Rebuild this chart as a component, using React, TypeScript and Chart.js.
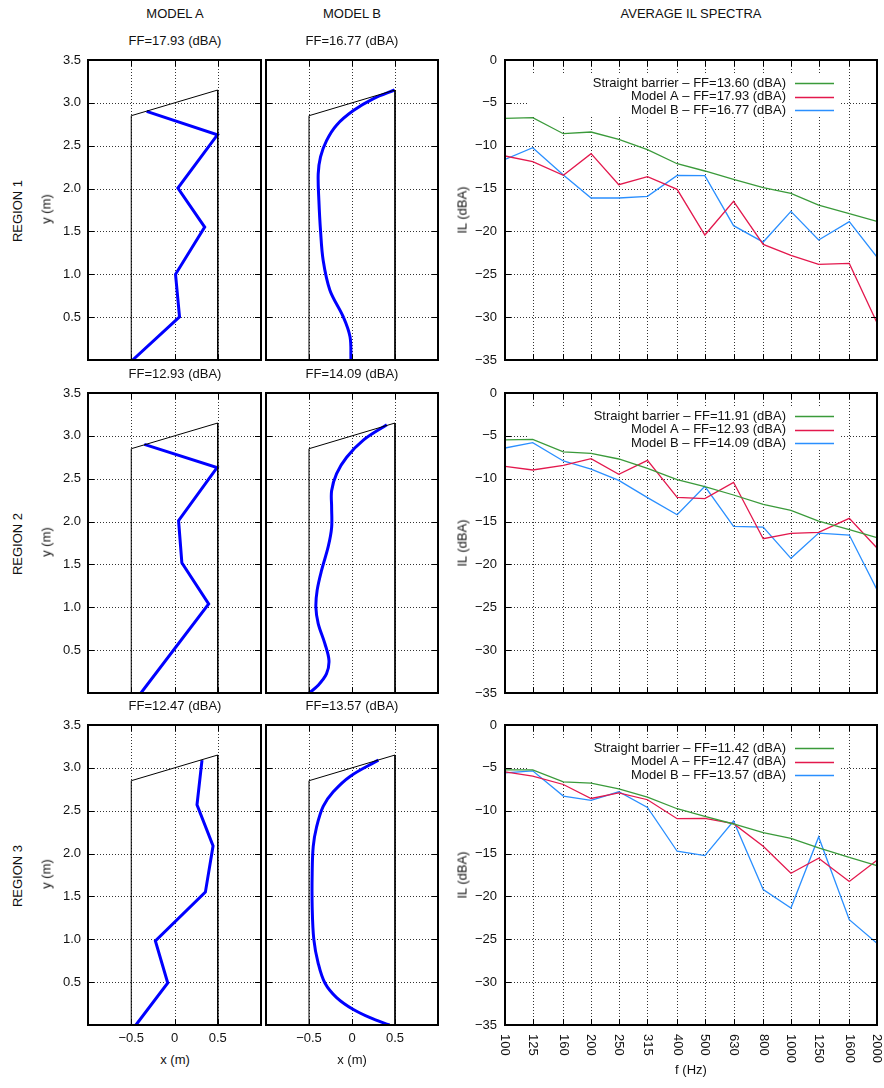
import React, { useEffect, useRef } from 'react';
import { Chart, registerables } from 'chart.js';
Chart.register(...registerables);

const FONT = "'Liberation Sans', Arial, Helvetica, sans-serif";
Chart.defaults.font.family = FONT;
Chart.defaults.font.size = 13;
Chart.defaults.color = '#111';

// ---------- spectra data ----------
const freqs = [100, 125, 160, 200, 250, 315, 400, 500, 630, 800, 1000, 1250, 1600, 2000];
const freqLabels = ['100', '125', '160', '200', '250', '315', '400', '500', '630', '800', '1000', '1250', '1600', '2000'];

const r1Straight = [-6.81, -6.73, -8.6, -8.4, -9.26, -10.46, -12.1, -12.95, -13.92, -14.9, -15.56, -16.92, -17.93, -18.83];
const r1ModelA = [-11.2, -11.86, -13.46, -10.93, -14.55, -13.61, -15.09, -20.42, -16.49, -21.51, -22.79, -23.84, -23.73, -30.65];
const r1ModelB = [-11.59, -10.23, -13.42, -16.1, -16.1, -15.91, -13.46, -13.5, -19.33, -21.24, -17.66, -21.0, -18.86, -22.99];

const r2Straight = [-5.48, -5.41, -6.88, -7.04, -7.7, -8.79, -10.11, -10.93, -11.9, -12.99, -13.69, -14.94, -15.95, -16.88];
const r2ModelA = [-8.56, -8.98, -8.44, -7.66, -9.49, -7.86, -12.17, -12.33, -10.42, -17.0, -16.37, -16.26, -14.62, -18.09];
const r2ModelB = [-6.42, -5.8, -7.93, -8.87, -10.19, -12.21, -14.2, -10.89, -15.56, -15.64, -19.29, -16.34, -16.57, -22.95];

const r3Straight = [-5.23, -5.23, -6.63, -6.78, -7.44, -8.41, -9.77, -10.66, -11.55, -12.56, -13.22, -14.34, -15.43, -16.4];
const r3ModelA = [-5.47, -5.97, -6.94, -8.57, -7.91, -8.72, -10.93, -10.89, -11.51, -14.15, -17.29, -15.54, -18.26, -15.78];
const r3ModelB = [-5.58, -5.35, -8.29, -8.8, -7.79, -9.61, -14.73, -15.23, -11.2, -19.19, -21.36, -13.06, -22.71, -25.47];

const ffStraight = ['13.60', '11.91', '11.42'];
const ffModelA = ['17.93', '12.93', '12.47'];
const ffModelB = ['16.77', '14.09', '13.57'];
const seriesNames = ['Straight barrier', 'Model A', 'Model B'];

// ---------- profile data ----------
const barrierX = [-0.5, -0.5, 0.5, 0.5];
const barrierY = [0, 2.85, 3.15, 0];
const profileXTicks = [-0.5, 0, 0.5];

const r1ProfileAX = [-0.484, 0.058, 0.012, 0.349, 0.039, 0.496, -0.322];
const r1ProfileAY = [0, 0.504, 1.0, 1.55, 2.006, 2.627, 2.9];
const r1ProfileBX = [-0.012, -0.023, -0.1, -0.257, -0.335, -0.366, -0.385, -0.393, -0.366, -0.296, -0.18, 0.016, 0.25, 0.494];
const r1ProfileBY = [0, 0.27, 0.5, 0.815, 1.16, 1.51, 1.86, 2.17, 2.37, 2.56, 2.74, 2.91, 3.05, 3.15];

const r2ProfileAX = [-0.388, 0.395, 0.085, 0.047, 0.492, -0.349];
const r2ProfileAY = [0, 1.04, 1.52, 2.01, 2.63, 2.9];
const r2ProfileBX = [-0.498, -0.393, -0.296, -0.268, -0.315, -0.393, -0.42, -0.405, -0.354, -0.276, -0.237, -0.237, -0.237, -0.179, -0.062, 0.132, 0.405];
const r2ProfileBY = [0, 0.09, 0.225, 0.38, 0.575, 0.81, 1.0, 1.2, 1.43, 1.71, 1.93, 2.17, 2.36, 2.56, 2.75, 2.95, 3.13];

const r3ProfileAX = [-0.446, -0.078, -0.221, 0.357, 0.446, 0.26, 0.318];
const r3ProfileAY = [0, 0.49, 0.98, 1.55, 2.09, 2.57, 3.09];
const r3ProfileBX = [0.436, 0.21, 0.016, -0.179, -0.315, -0.393, -0.444, -0.463, -0.463, -0.451, -0.412, -0.335, -0.218, -0.023, 0.307];
const r3ProfileBY = [0, 0.085, 0.18, 0.32, 0.49, 0.72, 1.0, 1.38, 1.77, 2.08, 2.31, 2.55, 2.72, 2.9, 3.09];

const spectra = [
  [r1Straight, r1ModelA, r1ModelB],
  [r2Straight, r2ModelA, r2ModelB],
  [r3Straight, r3ModelA, r3ModelB],
];
const profilesA = [[r1ProfileAX, r1ProfileAY], [r2ProfileAX, r2ProfileAY], [r3ProfileAX, r3ProfileAY]];
const profilesB = [[r1ProfileBX, r1ProfileBY], [r2ProfileBX, r2ProfileBY], [r3ProfileBX, r3ProfileBY]];

const GREEN = '#3a9a3a';
const RED = '#e3184d';
const BLUE = '#2a8fff';
const seriesColors = [GREEN, RED, BLUE];

const ROW_TOPS = [60, 393, 725];
const PLOT_H = 300;

const minus = (v: number) => (v < 0 ? '\u2212' + Math.abs(v) : String(v));

const noGrid = () => ({ display: false, drawTicks: false });
const noBorder = () => ({ display: false });

function fixSize(s: any, w: number | null, h: number | null) {
  if (w !== null) s.width = w;
  if (h !== null) s.height = h;
  s.paddingTop = 0;
  s.paddingBottom = 0;
  s.paddingLeft = 0;
  s.paddingRight = 0;
}

// dotted grid at the scales' own ticks
const gridPlugin = {
  id: 'dotGrid',
  beforeDatasetsDraw(chart: any) {
    const { ctx, chartArea: a, scales } = chart;
    ctx.save();
    ctx.strokeStyle = 'rgba(0,0,0,0.8)';
    ctx.lineWidth = 1;
    ctx.setLineDash([1, 2]);
    ctx.beginPath();
    scales.x.ticks.forEach((t: any) => {
      const px = Math.round(scales.x.getPixelForValue(t.value)) + 0.5;
      ctx.moveTo(px, a.top);
      ctx.lineTo(px, a.bottom);
    });
    scales.y.ticks.forEach((t: any) => {
      const py = Math.round(scales.y.getPixelForValue(t.value)) + 0.5;
      ctx.moveTo(a.left, py);
      ctx.lineTo(a.right, py);
    });
    ctx.stroke();
    ctx.restore();
  },
};

const framePlugin = {
  id: 'frame',
  afterDatasetsDraw(chart: any) {
    const { ctx, chartArea: a, scales } = chart;
    const tl = 6;
    ctx.save();
    ctx.strokeStyle = '#000';
    ctx.lineWidth = 1;
    ctx.beginPath();
    scales.x.ticks.forEach((t: any) => {
      const px = Math.round(scales.x.getPixelForValue(t.value)) + 0.5;
      ctx.moveTo(px, a.top);
      ctx.lineTo(px, a.top + tl);
      ctx.moveTo(px, a.bottom);
      ctx.lineTo(px, a.bottom - tl);
    });
    scales.y.ticks.forEach((t: any) => {
      const py = Math.round(scales.y.getPixelForValue(t.value)) + 0.5;
      ctx.moveTo(a.left, py);
      ctx.lineTo(a.left + tl, py);
      ctx.moveTo(a.right, py);
      ctx.lineTo(a.right - tl, py);
    });
    ctx.stroke();
    ctx.lineWidth = 2;
    ctx.strokeRect(a.left, a.top, a.right - a.left, a.bottom - a.top);
    ctx.restore();
  },
};

const freqLabelPlugin = {
  id: 'freqLabels',
  afterDraw(chart: any) {
    const { ctx, chartArea: a } = chart;
    const sx = chart.scales.x;
    ctx.save();
    ctx.font = `13px ${FONT}`;
    ctx.fillStyle = '#111';
    ctx.textAlign = 'left';
    ctx.textBaseline = 'middle';
    freqs.forEach((f, i) => {
      const px = sx.getPixelForValue(f);
      ctx.save();
      ctx.translate(px, a.bottom + 9);
      ctx.rotate(Math.PI / 2);
      ctx.fillText(freqLabels[i], 0, 0);
      ctx.restore();
    });
    ctx.restore();
  },
};

function makeLegendPlugin(row: number) {
  const ffs = [ffStraight[row], ffModelA[row], ffModelB[row]];
  return {
    id: 'keyBox',
    beforeDatasetsDraw(chart: any) {
      const { ctx, chartArea: a } = chart;
      ctx.save();
      ctx.fillStyle = '#fff';
      ctx.fillRect(a.left + 22, a.top + 15, 314, 42);
      ctx.font = `13px ${FONT}`;
      ctx.fillStyle = '#111';
      ctx.textAlign = 'right';
      ctx.textBaseline = 'middle';
      const rows = [23, 36.5, 50];
      seriesNames.forEach((n, i) => {
        const y = a.top + rows[i];
        ctx.fillText(`${n} \u2013 FF=${ffs[i]} (dBA)`, a.left + 281, y);
        ctx.strokeStyle = seriesColors[i];
        ctx.lineWidth = 1.4;
        ctx.beginPath();
        ctx.moveTo(a.left + 290, Math.round(y) + 0.5);
        ctx.lineTo(a.left + 329, Math.round(y) + 0.5);
        ctx.stroke();
      });
      ctx.restore();
    },
  };
}

function spectraConfig(row: number): any {
  const bottom = row === 2;
  const plugins: any[] = [gridPlugin, framePlugin, makeLegendPlugin(row)];
  if (bottom) plugins.push(freqLabelPlugin);
  return {
    type: 'line',
    data: {
      datasets: spectra[row].map((vals, i) => ({
        label: seriesNames[i],
        data: freqs.map((f, j) => ({ x: f, y: vals[j] })),
        borderColor: seriesColors[i],
        borderWidth: 1.3,
        pointRadius: 0,
        tension: 0,
        fill: false,
      })),
    },
    options: {
      responsive: false,
      animation: false,
      events: [],
      layout: { padding: { left: 0, right: 7, top: 10, bottom: 0 } },
      plugins: { legend: { display: false }, tooltip: { enabled: false } },
      scales: {
        x: {
          type: 'logarithmic',
          min: 100,
          max: 2000,
          afterBuildTicks: (s: any) => {
            s.ticks = freqs.map((v) => ({ value: v }));
          },
          ticks: { display: false },
          grid: noGrid(),
          border: noBorder(),
          afterFit: (s: any) => fixSize(s, null, bottom ? 63 : 10),
        },
        y: {
          type: 'linear',
          min: -35,
          max: 0,
          ticks: { stepSize: 5, padding: 8, callback: (v: any) => minus(Number(v)) },
          grid: noGrid(),
          border: noBorder(),
          afterFit: (s: any) => fixSize(s, 45, null),
        },
      },
    },
    plugins,
  };
}

function profileConfig(xs: number[], ys: number[], smooth: boolean, showY: boolean, showX: boolean): any {
  return {
    type: 'scatter',
    data: {
      datasets: [
        {
          data: barrierX.map((x, i) => ({ x, y: barrierY[i] })),
          showLine: true,
          borderColor: '#000',
          borderWidth: 1,
          pointRadius: 0,
          tension: 0,
        },
        {
          data: xs.map((x, i) => ({ x, y: ys[i] })),
          showLine: true,
          borderColor: '#0000ff',
          borderWidth: 3,
          pointRadius: 0,
          tension: smooth ? 0.35 : 0,
        },
      ],
    },
    options: {
      responsive: false,
      animation: false,
      events: [],
      layout: { padding: { left: showY ? 0 : 2, right: 3, top: 10, bottom: 0 } },
      plugins: { legend: { display: false }, tooltip: { enabled: false } },
      scales: {
        x: {
          type: 'linear',
          min: -1,
          max: 1,
          afterBuildTicks: (s: any) => {
            s.ticks = profileXTicks.map((v) => ({ value: v }));
          },
          ticks: { display: showX, padding: 6, autoSkip: false, callback: (v: any) => minus(Number(v)) },
          grid: noGrid(),
          border: noBorder(),
          afterFit: (s: any) => fixSize(s, null, showX ? 22 : 10),
        },
        y: {
          type: 'linear',
          min: 0,
          max: 3.5,
          ticks: {
            stepSize: 0.5,
            display: showY,
            padding: 7,
            autoSkip: false,
            callback: (v: any) => (Number(v) === 0 ? '' : Number(v).toFixed(1)),
          },
          grid: noGrid(),
          border: noBorder(),
          afterFit: (s: any) => fixSize(s, showY ? 48 : 1, null),
        },
      },
    },
    plugins: [gridPlugin, framePlugin],
  };
}

function ChartBox(props: { left: number; top: number; width: number; height: number; make: () => any }) {
  const ref = useRef<HTMLCanvasElement | null>(null);
  useEffect(() => {
    const chart = new Chart(ref.current as HTMLCanvasElement, props.make());
    return () => chart.destroy();
  }, []);
  return (
    <canvas
      ref={ref}
      width={props.width}
      height={props.height}
      style={{ position: 'absolute', left: props.left, top: props.top, width: props.width, height: props.height }}
    />
  );
}

function Label(props: { x: number; y: number; text: string; rotate?: boolean }) {
  return (
    <div
      style={{
        position: 'absolute',
        left: props.x,
        top: props.y,
        transform: `translate(-50%, -50%)${props.rotate ? ' rotate(-90deg)' : ''}`,
        whiteSpace: 'nowrap',
        font: `13px ${FONT}`,
        color: '#111',
        lineHeight: '15px',
      }}
    >
      {props.text}
    </div>
  );
}

export default function App() {
  const items: any[] = [];
  ROW_TOPS.forEach((top, r) => {
    const last = r === 2;
    const hA = last ? 10 + PLOT_H + 22 : 10 + PLOT_H + 10;
    const hS = last ? 10 + PLOT_H + 63 : 10 + PLOT_H + 10;
    items.push(
      <ChartBox key={`a${r}`} left={40} top={top - 10} width={224} height={hA}
        make={() => profileConfig(profilesA[r][0], profilesA[r][1], false, true, last)} />,
      <ChartBox key={`b${r}`} left={263} top={top - 10} width={178} height={hA}
        make={() => profileConfig(profilesB[r][0], profilesB[r][1], true, false, last)} />,
      <ChartBox key={`s${r}`} left={460} top={top - 10} width={424} height={hS}
        make={() => spectraConfig(r)} />,
      <Label key={`ffa${r}`} x={175} y={top - 20} text={`FF=${ffModelA[r]} (dBA)`} />,
      <Label key={`ffb${r}`} x={352} y={top - 20} text={`FF=${ffModelB[r]} (dBA)`} />,
      <Label key={`reg${r}`} x={17} y={top + PLOT_H / 2 + 1} text={`REGION ${r + 1}`} rotate />,
      <Label key={`ym${r}`} x={46} y={top + PLOT_H / 2 - 1} text="y (m)" rotate />,
      <Label key={`il${r}`} x={462} y={top + PLOT_H / 2} text="IL (dBA)" rotate />,
    );
  });
  return (
    <div style={{ position: 'absolute', left: 0, top: 0, width: 884, height: 1088, background: '#fff', overflow: 'hidden' }}>
      <Label x={175} y={13} text="MODEL A" />
      <Label x={352} y={13} text="MODEL B" />
      <Label x={691} y={13} text="AVERAGE IL SPECTRA" />
      {items}
      <Label x={175} y={1059} text="x (m)" />
      <Label x={352} y={1059} text="x (m)" />
      <Label x={691} y={1069} text="f (Hz)" />
    </div>
  );
}
